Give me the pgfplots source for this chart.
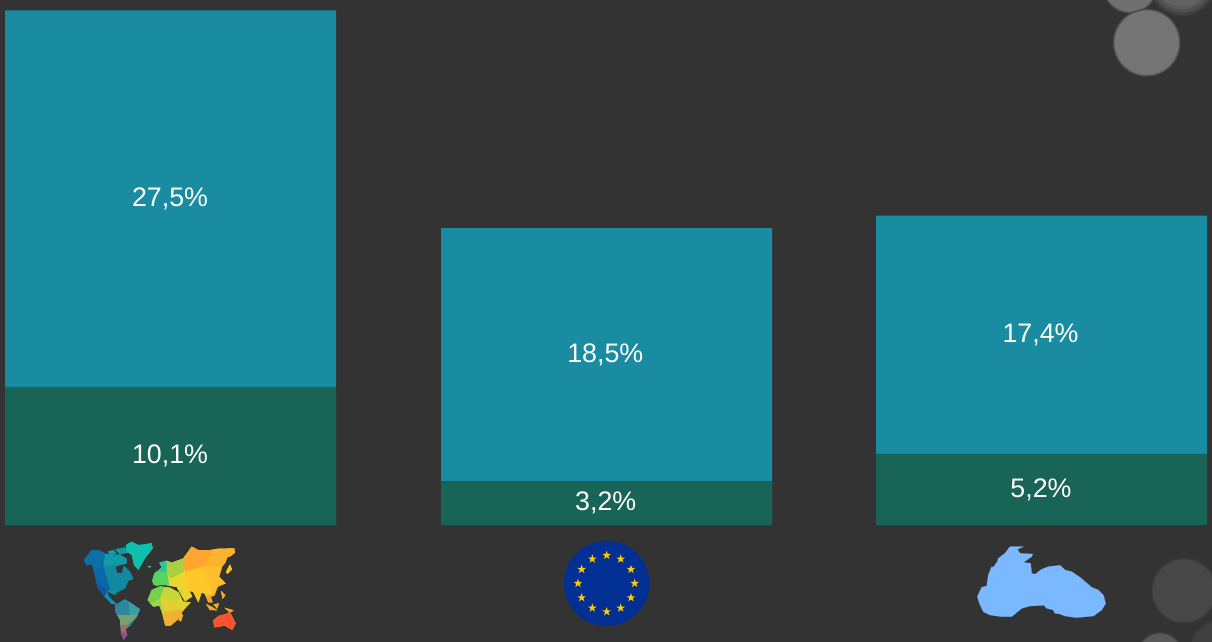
\documentclass[border=0pt]{standalone}
\usepackage{pgfplots}
\pgfplotsset{compat=1.18}
\usepackage{fontspec}
\setmainfont{Liberation Sans}
\definecolor{bg}{HTML}{333333}
\definecolor{upper}{HTML}{198CA1}
\definecolor{lower}{HTML}{186456}
\definecolor{eublue}{HTML}{012F94}
\definecolor{eustar}{HTML}{FFCC00}
\definecolor{sea}{HTML}{7AB8FF}
\definecolor{ca}{HTML}{747474}
\definecolor{cb}{HTML}{707070}
\definecolor{cc}{HTML}{6A6A6A}
\definecolor{cd}{HTML}{474747}
\definecolor{ce}{HTML}{585858}
\definecolor{cf}{HTML}{404040}
\definecolor{ta}{RGB}{11,111,168}
\definecolor{tb}{RGB}{17,154,168}
\definecolor{tc}{RGB}{20,136,160}
\definecolor{td}{RGB}{10,104,168}
\definecolor{te}{RGB}{13,90,160}
\definecolor{tf}{RGB}{14,144,160}
\definecolor{tg}{RGB}{15,191,174}
\definecolor{th}{RGB}{31,148,168}
\definecolor{ti}{RGB}{46,134,160}
\definecolor{tj}{RGB}{58,159,160}
\definecolor{tk}{RGB}{122,160,112}
\definecolor{tl}{RGB}{160,112,96}
\definecolor{tm}{RGB}{154,74,138}
\definecolor{tn}{RGB}{37,200,160}
\definecolor{to}{RGB}{85,213,96}
\definecolor{tp}{RGB}{168,208,64}
\definecolor{tq}{RGB}{236,214,50}
\definecolor{tr}{RGB}{120,208,80}
\definecolor{ts}{RGB}{197,216,56}
\definecolor{tt}{RGB}{160,213,69}
\definecolor{tu}{RGB}{224,208,48}
\definecolor{tv}{RGB}{240,176,48}
\definecolor{tw}{RGB}{255,166,48}
\definecolor{tx}{RGB}{255,178,46}
\definecolor{ty}{RGB}{255,200,42}
\definecolor{tz}{RGB}{255,190,44}
\definecolor{tA}{RGB}{245,168,40}
\definecolor{tB}{RGB}{255,80,48}
\pgfdeclareplotmark{estar}{%
  \pgfpathmoveto{\pgfpointpolar{90}{\pgfplotmarksize}}%
  \pgfpathlineto{\pgfpointpolar{126}{.382\pgfplotmarksize}}%
  \pgfpathlineto{\pgfpointpolar{162}{\pgfplotmarksize}}%
  \pgfpathlineto{\pgfpointpolar{198}{.382\pgfplotmarksize}}%
  \pgfpathlineto{\pgfpointpolar{234}{\pgfplotmarksize}}%
  \pgfpathlineto{\pgfpointpolar{270}{.382\pgfplotmarksize}}%
  \pgfpathlineto{\pgfpointpolar{306}{\pgfplotmarksize}}%
  \pgfpathlineto{\pgfpointpolar{342}{.382\pgfplotmarksize}}%
  \pgfpathlineto{\pgfpointpolar{18}{\pgfplotmarksize}}%
  \pgfpathlineto{\pgfpointpolar{54}{.382\pgfplotmarksize}}%
  \pgfpathclose\pgfusepathqfill}
\pgfplotsset{base/.style={scale only axis,width=1212pt,height=641pt,at={(0pt,0pt)},anchor=south west,hide axis},
  px/.style={base,xmin=0,xmax=1212,ymin=0,ymax=641,y dir=reverse},
  zoomed/.style 2 args={base,y dir=reverse,
    xmin={-3*#1},xmax={3*(1212-#1)},ymin={-3*#2},ymax={3*(641-#2)}},
  poly/.style={fill=#1,draw=#1,line width=0.2pt,forget plot}}
\newcommand{\lab}[2]{\node[text=white,font=\fontsize{26.8}{30}\selectfont,inner sep=0pt,anchor=base] at (axis cs:#1) {#2};}
% a circle with a soft rim: #1 = x,y  #2 = radius  #3 = colour
\newcommand{\soft}[3]{%
  \fill[#3!25!bg] (axis cs:#1) circle[radius=#2];
  \fill[#3!50!bg] (axis cs:#1) circle[radius=#2-0.7];
  \fill[#3!75!bg] (axis cs:#1) circle[radius=#2-1.4];
  \fill[#3] (axis cs:#1) circle[radius=#2-2.1];}
\begin{document}
\begin{tikzpicture}
\useasboundingbox (0pt,0pt) rectangle (1212pt,641pt);
\clip (0pt,0pt) rectangle (1212pt,641pt);
\fill[bg] (-5pt,-5pt) rectangle (1217pt,646pt);
% soft circles
\begin{axis}[px]
\soft{1130,-14.5}{28}{cb}
\fill[cc!12!bg] (axis cs:1182,-18.6) circle[radius=35];
\fill[cc!30!bg] (axis cs:1182,-18.6) circle[radius=33];
\fill[cc!50!bg] (axis cs:1182,-18.6) circle[radius=31];
\fill[cc!70!bg] (axis cs:1182,-18.6) circle[radius=28];
\fill[cc!85!bg] (axis cs:1182,-18.6) circle[radius=25];
\soft{1146.7,42.7}{34}{ca}
\soft{1184,590.7}{33}{cd}
\soft{1160,655}{23}{ce}
\soft{1222,652}{33}{cf}
\end{axis}
% stacked bars
\begin{axis}[base,ybar stacked,bar width=331pt,xmin=0,xmax=1212,
  ymin=-8.47,ymax=38.36]
\addplot[fill=lower,draw=none] coordinates {(170.5,10.1) (606.5,3.2) (1041.5,5.2)};
\addplot[fill=upper,draw=none] coordinates {(170.5,27.5) (606.5,18.5) (1041.5,17.4)};
\end{axis}
% labels
\begin{axis}[px]
\lab{170,206}{27,5\%}
\lab{170,463}{10,1\%}
\lab{605.3,362}{18,5\%}
\lab{605.7,510}{3,2\%}
\lab{1040.5,342}{17,4\%}
\lab{1041,497}{5,2\%}
\end{axis}
% EU flag
\begin{axis}[zoomed={550}{530}]
\fill[eublue] (axis cs:170,160) circle[radius=128];
\addplot[only marks,mark=estar,mark size=4.6pt,color=eustar,forget plot] coordinates {
(170,76) (212,87) (243,118) (254,160) (243,203) (212,234) (170,245) (127,234) (95,203) (84,160) (95,118) (127,87)};
\end{axis}
% Black Sea
\begin{axis}[zoomed={960}{530}]
\addplot[poly=sea] coordinates {(52,200) (65,172) (80,168) (85,135) (95,110) (100,112) (112,95) (115,85) (135,70) (150,50) (190,50) (172,58) (180,70) (218,72) (215,80) (190,97) (212,100) (215,130) (225,133) (245,118) (265,110) (300,106) (315,120) (335,125) (360,142) (395,172) (415,180) (430,195) (437,220) (425,240) (400,258) (350,263) (315,258) (300,252) (285,250) (280,240) (260,235) (252,226) (210,228) (185,235) (155,260) (125,260) (90,255) (70,245) (60,225) (52,200)};
\end{axis}
% World map
\begin{axis}[zoomed={70}{530}]
\clip
 (42,90)--(65,60)--(85,60)--(110,72)--(130,74)--(150,74)--(170,86)--(170,100)--(155,104)--(137,110)--(140,128)--(155,130)--(162,108)--(180,125)--(190,147)--(175,152)--(165,175)--(145,185)--(133,192)--(112,185)--(116,198)--(128,212)--(140,222)--(125,222)--(102,198)--(83,172)--(76,140)--(66,102)--(50,106)--cycle
 (113,65)--(130,60)--(140,70)--(120,75)--cycle
 (135,58)--(165,52)--(172,68)--(150,73)--cycle
 (115,185)--(142,195)--(130,193)--cycle
 (168,45)--(185,35)--(205,45)--(245,40)--(248,55)--(225,85)--(205,120)--(192,105)--(185,75)--(170,65)--cycle
 (232,108)--(243,108)--(240,113)--cycle
 (136,225)--(165,208)--(187,222)--(210,238)--(200,262)--(180,287)--(167,297)--(172,315)--(160,330)--(153,310)--(150,270)--(136,245)--cycle
 (247,152)--(253,130)--(275,113)--(268,98)--(290,92)--(305,98)--(340,85)--(352,68)--(365,50)--(385,60)--(420,60)--(445,56)--(493,55)--(495,68)--(482,78)--(472,82)--(465,100)--(456,110)--(452,125)--(447,140)--(467,160)--(443,170)--(433,197)--(422,200)--(428,217)--(415,217)--(405,192)--(395,187)--(385,217)--(370,187)--(358,182)--(367,200)--(345,214)--(328,185)--(320,171)--(290,166)--(278,164)--(260,167)--(250,163)--cycle
 (233,210)--(245,180)--(270,169)--(300,173)--(325,187)--(340,215)--(362,217)--(337,245)--(327,265)--(302,287)--(286,287)--(275,245)--(268,227)--(250,230)--cycle
 (260,130)--(271,123)--(269,142)--cycle
 (468,125)--(480,103)--(486,118)--(472,132)--cycle
 (408,222)--(425,230)--(442,241)--(420,240)--cycle
 (430,223)--(447,220)--(441,236)--cycle
 (463,233)--(491,241)--(480,247)--cycle
 (453,183)--(466,195)--(458,207)--cycle
 (326,272)--(334,250)--(339,255)--(333,274)--cycle
 (430,272)--(445,258)--(465,253)--(480,246)--(497,280)--(487,300)--(465,287)--(433,292)--cycle;
% base colours, so that the tiles leave no gap
\addplot[poly=tf] coordinates {(0,0) (235,0) (235,205) (0,205)};
\addplot[poly=th] coordinates {(0,205) (232,205) (232,340) (0,340)};
\addplot[poly=tq] coordinates {(232,0) (540,0) (540,340) (232,340)};
% tiles
\addplot[poly=ta] coordinates {(30,40) (110,40) (100,110) (30,120)};
\addplot[poly=tb] coordinates {(110,40) (180,40) (180,100) (100,110)};
\addplot[poly=tc] coordinates {(100,110) (180,100) (200,170) (120,180)};
\addplot[poly=td] coordinates {(30,120) (100,110) (120,180) (80,200) (60,150)};
\addplot[poly=te] coordinates {(80,160) (120,180) (115,200) (100,200)};
\addplot[poly=tf] coordinates {(115,180) (200,170) (160,225) (100,205)};
\addplot[poly=tg] coordinates {(165,30) (260,30) (250,120) (190,120) (170,70)};
\addplot[poly=th] coordinates {(130,205) (215,205) (215,240) (130,240)};
\addplot[poly=ti] coordinates {(130,225) (175,215) (185,255) (140,255)};
\addplot[poly=tj] coordinates {(175,215) (215,235) (190,270) (180,255)};
\addplot[poly=tk] coordinates {(140,255) (205,255) (165,290) (150,290)};
\addplot[poly=tl] coordinates {(145,285) (185,285) (170,310) (150,310)};
\addplot[poly=tm] coordinates {(145,308) (180,308) (175,335) (145,335)};
\addplot[poly=tn] coordinates {(240,80) (305,80) (290,125) (240,130)};
\addplot[poly=to] coordinates {(240,130) (290,125) (300,172) (240,172)};
\addplot[poly=tp] coordinates {(290,80) (345,80) (340,130) (305,150) (290,125)};
\addplot[poly=tq] coordinates {(295,150) (345,125) (350,215) (330,200) (300,170)};
\addplot[poly=tr] coordinates {(230,168) (285,168) (270,205) (230,230)};
\addplot[poly=ts] coordinates {(285,168) (340,185) (320,215) (270,205)};
\addplot[poly=tt] coordinates {(230,228) (270,205) (280,245) (255,240)};
\addplot[poly=tu] coordinates {(270,205) (320,215) (365,215) (310,260) (280,245)};
\addplot[poly=tv] coordinates {(280,245) (340,240) (345,280) (315,300) (280,295)};
\addplot[poly=tw] coordinates {(340,85) (360,45) (440,45) (400,110) (345,130)};
\addplot[poly=tx] coordinates {(440,45) (500,50) (500,110) (400,110)};
\addplot[poly=ty] coordinates {(345,125) (400,110) (430,200) (380,225) (345,170)};
\addplot[poly=tz] coordinates {(400,110) (500,110) (480,180) (430,200)};
\addplot[poly=tA] coordinates {(405,200) (500,170) (500,247) (400,247)};
\addplot[poly=tB] coordinates {(420,247) (500,247) (500,305) (420,305)};
\end{axis}
\end{tikzpicture}
\end{document}
